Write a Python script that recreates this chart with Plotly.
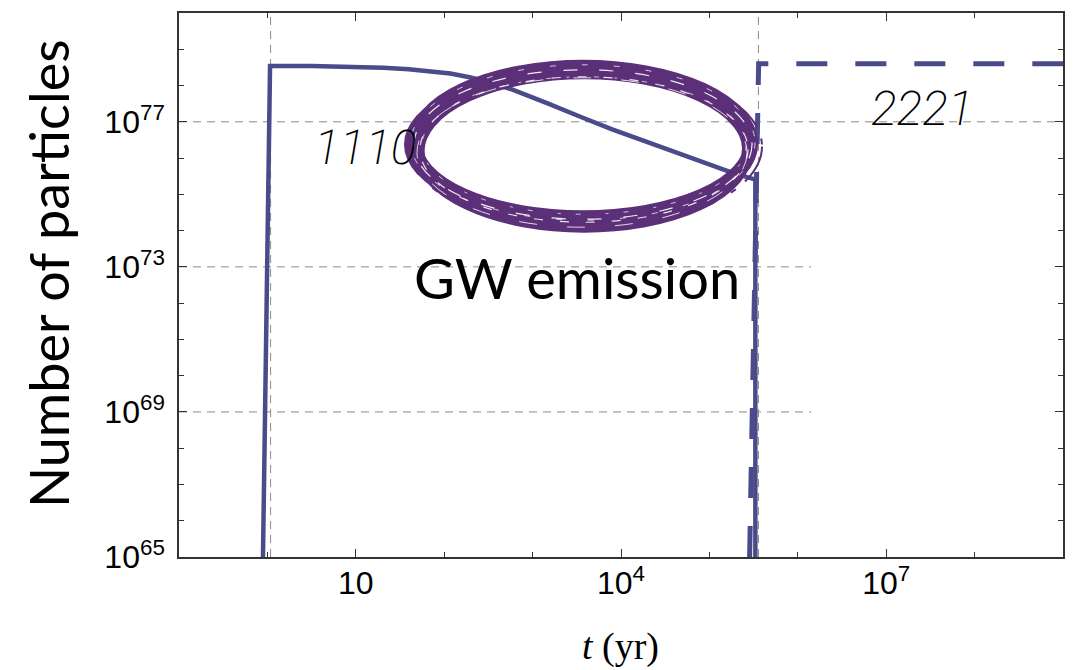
import plotly.graph_objects as go

# ---- data --------------------------------------------------------------
# log10(t / yr) and log10(N) for the 1110 level (solid curve)
log_t_1110 = [-0.05, 0.03, 0.50, 1.00, 1.31, 1.60, 1.90, 2.07, 2.30, 2.55,
              2.78, 3.00, 3.17, 3.54, 3.90, 4.30, 4.70, 5.05, 5.24, 5.50,
              5.52, 5.52]
log_n_1110 = [65.0, 78.54, 78.54, 78.52, 78.49, 78.45, 78.38, 78.33, 78.22, 78.06,
              77.88, 77.68, 77.51, 77.14, 76.79, 76.44, 76.09, 75.78, 75.61, 75.42,
              75.42, 65.0]

# log10(t / yr) and log10(N) for the 2221 level (dashed curve)
log_t_2221 = [5.455, 5.557, 9.0]
log_n_2221 = [65.0, 78.60, 78.60]

x_tick_vals = [10, 1e4, 1e7]
x_tick_text = ["10", "10<sup>4</sup>", "10<sup>7</sup>"]
x_minor_vals = [0.1, 1, 100, 1e3, 1e5, 1e6, 1e8, 1e9]
y_tick_vals = [1e65, 1e69, 1e73, 1e77]
y_tick_text = ["10<sup>65</sup>", "10<sup>69</sup>", "10<sup>73</sup>", "10<sup>77</sup>"]
y_minor_vals = [1e66, 1e67, 1e68, 1e70, 1e71, 1e72, 1e74, 1e75, 1e76, 1e78, 1e79]

# axis ranges (log10)
X_RANGE = [-1, 9]
Y_RANGE = [65, 80]

# ---- styles ------------------------------------------------------------
LINE_COLOR = "#4a4b8a"
PURPLE = "#5c3079"
GRID = "#8a8a8a"
AXIS = "#333333"
W, H = 1082, 670
M = dict(l=179, r=19, t=11, b=113)
PW = W - M["l"] - M["r"]
PH = H - M["t"] - M["b"]


def px_x(px):
    return (px - M["l"]) / PW


def px_y(py):
    return (H - M["b"] - py) / PH


def lx(v):
    return (v - X_RANGE[0]) / (X_RANGE[1] - X_RANGE[0])


def ly(v):
    return (v - Y_RANGE[0]) / (Y_RANGE[1] - Y_RANGE[0])


fig = go.Figure()

fig.add_trace(go.Scatter(
    x=[10 ** v for v in log_t_1110], y=[10 ** v for v in log_n_1110],
    mode="lines", line=dict(color=LINE_COLOR, width=4.5), showlegend=False,
    hoverinfo="skip"))

fig.add_trace(go.Scatter(
    x=[10 ** v for v in log_t_2221], y=[10 ** v for v in log_n_2221],
    mode="lines", line=dict(color=LINE_COLOR, width=5, dash="31px,28px"),
    showlegend=False, hoverinfo="skip"))

shapes = []
grid_line = dict(color=GRID, width=1, dash="8px,6px")
# horizontal guide lines (log10 N, right end in log10 t)
for yv, xend in [(77, 9.0), (73, 6.15), (69, 6.15)]:
    shapes.append(dict(type="line", xref="paper", yref="paper",
                       x0=0, x1=lx(xend), y0=ly(yv), y1=ly(yv),
                       line=grid_line, layer="below"))
# vertical guide lines at the two transitions
for xv in [0.036, 5.555]:
    shapes.append(dict(type="line", xref="paper", yref="paper",
                       x0=lx(xv), x1=lx(xv), y0=0, y1=1,
                       line=grid_line, layer="below"))

# brushed ellipse around the GW-emission phase (pixel geometry)
cx, cy, a, b = 583, 142, 168, 74
strokes = [
    # dx, dy, da, db, width, colour, dash
    (0, 0, 0, 0, 14, PURPLE, "solid"),
    (0, 5, -3, 3, 12, PURPLE, "solid"),
    (1, 8, -4, 3, 9, PURPLE, "solid"),
    (0, -2, 4, 6, 4, PURPLE, "solid"),
    (-2, 1, 7, 2, 4, PURPLE, "solid"),
    (2, 3, 9, 8, 2, PURPLE, "40px,12px,6px,20px"),
    (0, 1, 1, 1, 1.2, "rgba(255,255,255,0.9)", "14px,22px"),
    (1, 6, -4, -1, 1.2, "rgba(255,255,255,0.85)", "9px,17px"),
    (0, -1, 4, 4, 1, "rgba(255,255,255,0.75)", "6px,26px"),
    (-1, 9, -3, 1, 1, "rgba(255,255,255,0.8)", "18px,30px"),
    (1, 2, -6, -5, 1, "rgba(255,255,255,0.7)", "5px,15px,3px,25px"),
]
for dx, dy, da, db, w, col, dsh in strokes:
    shapes.append(dict(type="circle", xref="paper", yref="paper",
                       x0=px_x(cx + dx - a - da), x1=px_x(cx + dx + a + da),
                       y0=px_y(cy + dy + b + db), y1=px_y(cy + dy - b - db),
                       line=dict(color=col, width=w, dash=dsh),
                       layer="above"))

annotations = [
    dict(x=1.106, y=76.29, xref="x", yref="y", text="1110", showarrow=False,
         font=dict(family="Roboto", size=48, color="black", weight=200,
                   style="italic")),
    dict(x=7.41, y=77.36, xref="x", yref="y", text="2221", showarrow=False,
         font=dict(family="Roboto", size=48, color="black", weight=200,
                   style="italic")),
    dict(x=3.507, y=72.72, xref="x", yref="y", text="GW emission",
         showarrow=False, font=dict(family="Lato", size=56, color="black")),
    dict(x=px_x(48), y=px_y(273), xref="paper", yref="paper",
         xanchor="center", yanchor="middle",
         text="Number of particles", textangle=-90, showarrow=False,
         font=dict(family="Lato", size=54, color="black")),
    dict(x=px_x(620), y=px_y(647), xref="paper", yref="paper",
         xanchor="center", yanchor="middle",
         text="<i>t</i> (yr)", showarrow=False,
         font=dict(family="Liberation Serif", size=38, color="black")),
]

axis_common = dict(
    type="log", showgrid=False, zeroline=False, showline=True,
    linecolor=AXIS, linewidth=1.5, mirror="allticks", ticks="inside",
    ticklen=8, tickwidth=1.2, tickcolor=AXIS,
    tickfont=dict(family="Liberation Sans", size=32, color="black"),
    tickmode="array",
)

fig.update_layout(
    width=W, height=H, margin=M,
    paper_bgcolor="white", plot_bgcolor="white",
    xaxis=dict(**axis_common, range=X_RANGE, tickvals=x_tick_vals,
               ticktext=x_tick_text, ticklabelstandoff=-3,
               minor=dict(tickmode="array", tickvals=x_minor_vals,
                          ticks="inside", ticklen=5, tickcolor=AXIS,
                          tickwidth=1, showgrid=False)),
    yaxis=dict(**axis_common, range=Y_RANGE, tickvals=y_tick_vals,
               ticktext=y_tick_text, ticklabelstandoff=6,
               minor=dict(tickmode="array", tickvals=y_minor_vals,
                          ticks="inside", ticklen=5, tickcolor=AXIS,
                          tickwidth=1, showgrid=False)),
    shapes=shapes, annotations=annotations,
)

fig.write_html("out.html")
